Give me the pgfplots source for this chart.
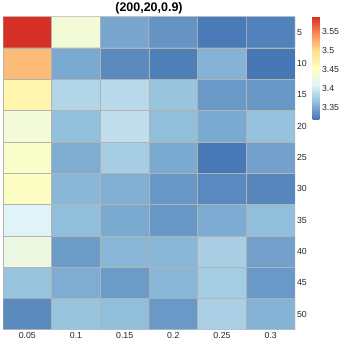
\documentclass[border=0pt]{standalone}
\usepackage{fontspec}
\setmainfont{Liberation Sans}
\usepackage{pgfplots}
\pgfplotsset{compat=1.18}
\begin{document}
\begin{tikzpicture}
\begin{axis}[
 width=292bp, height=313bp, scale only axis,
 xmin=-0.5, xmax=5.5, ymin=-0.5, ymax=9.5, y dir=reverse,
 axis line style={draw=none},
 xtick={0,1,2,3,4,5}, xticklabels={0.05,0.1,0.15,0.2,0.25,0.3},
 ytick={0,1,2,3,4,5,6,7,8,9}, yticklabels={5,10,15,20,25,30,35,40,45,50},
 yticklabel pos=right,
 major tick length=0pt,
 tick label style={font=\fontsize{8.8}{10}\selectfont, text=black!85},
 xticklabel style={anchor=base, yshift=-9bp},
 yticklabel style={inner xsep=0pt, xshift=1.8bp},
 every axis title shift=0pt,
 title={\bfseries (200,20,0.9)},
 title style={font=\fontsize{12.5}{14}\selectfont, at={(0.5,1)}, anchor=base, yshift=4.7bp},
 colormap={rdylbu}{rgb255=(69,117,180) rgb255=(145,191,219) rgb255=(224,243,248) rgb255=(255,255,191) rgb255=(254,224,144) rgb255=(252,141,89) rgb255=(215,48,39)},
 point meta min=3.32, point meta max=3.59,
 colorbar,
 colorbar style={width=6.6bp, height=102.6bp, at={(parent axis.north east)}, anchor=north west, xshift=9.2bp,
   axis line style={draw=none}, major tick length=0pt,
   ytick={3.35,3.4,3.45,3.5,3.55},
   yticklabel style={font=\fontsize{8.8}{10}\selectfont, text=black!85, inner xsep=0pt, xshift=2.5bp},
   /pgf/number format/assume math mode=true},
 /pgf/number format/assume math mode=true,
]
\addplot[matrix plot*, mesh/cols=6, mesh/ordering=x varies, point meta=explicit, draw=gray!60, line width=0.6pt] table[meta=z] {
x y z
0 0 3.59
1 0 3.436
2 0 3.35
3 0 3.339
4 0 3.323
5 0 3.328
0 1 3.52
1 1 3.352
2 1 3.333
3 1 3.326
4 1 3.358
5 1 3.321
0 2 3.47
1 2 3.384
2 2 3.3875
3 2 3.37
4 2 3.342
5 2 3.341
0 3 3.436
1 3 3.366
2 3 3.392
3 3 3.365
4 3 3.352
5 3 3.368
0 4 3.447
1 4 3.354
2 4 3.377
3 4 3.352
4 4 3.322
5 4 3.347
0 5 3.452
1 5 3.36
2 5 3.355
3 5 3.341
4 5 3.332
5 5 3.331
0 6 3.41
1 6 3.365
2 6 3.352
3 6 3.341
4 6 3.353
5 6 3.365
0 7 3.428
1 7 3.344
2 7 3.36
3 7 3.36
4 7 3.379
5 7 3.347
0 8 3.369
1 8 3.354
2 8 3.343
3 8 3.36
4 8 3.376
5 8 3.342
0 9 3.333
1 9 3.369
2 9 3.365
3 9 3.342
4 9 3.38
5 9 3.358
};
\end{axis}
\pgfresetboundingbox
\path (current axis.south west) ++(-3bp,-15bp) coordinate (bbA);
\path (current axis.north east) ++(50bp,16.7bp) coordinate (bbB);
\path[use as bounding box] (bbA) rectangle (bbB);
\end{tikzpicture}
\end{document}
